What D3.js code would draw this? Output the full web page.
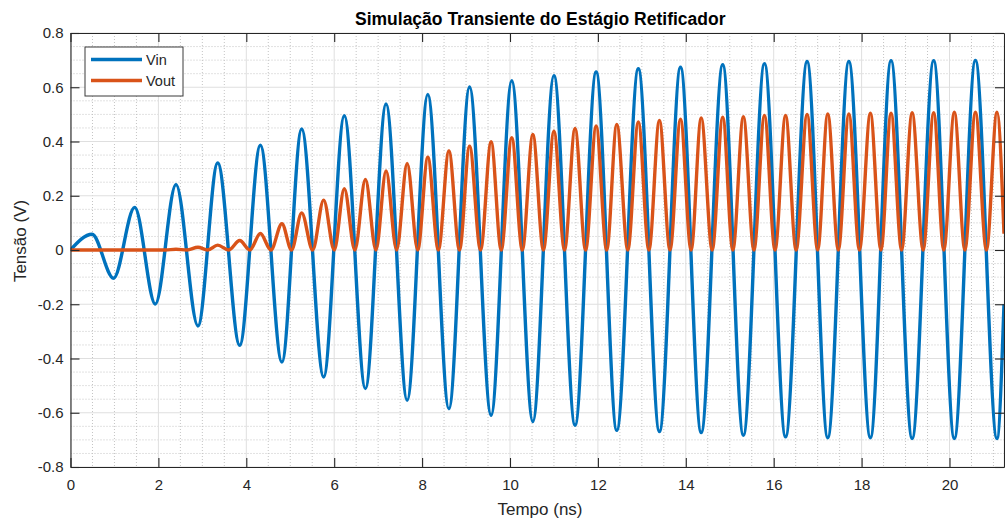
<!DOCTYPE html>
<html>
<head>
<meta charset="utf-8">
<script src="https://cdn.jsdelivr.net/npm/d3@7"></script>
<style>
  body { margin: 0; background: #fff; }
  text { font-family: "Liberation Sans", Arial, sans-serif; fill: #262626; }
</style>
</head>
<body>
<div id="chart"></div>
<script>
// extrema of Vin (max / min alternating), in ns
var tExt = [0.49, 0.98, 1.46, 1.93, 2.40, 2.90, 3.35, 3.85, 4.32, 4.81, 5.26, 5.76,
    6.23, 6.71, 7.18, 7.66, 8.13, 8.61, 9.08, 9.57, 10.04, 10.52, 11.00, 11.48,
    11.96, 12.43, 12.92, 13.40, 13.88, 14.35, 14.84, 15.31, 15.79, 16.27, 16.76, 17.23,
    17.71, 18.20, 18.67, 19.15, 19.64, 20.11, 20.59, 21.08];

var vinExt = [0.058, -0.104, 0.157, -0.199, 0.241, -0.280, 0.321, -0.351, 0.386, -0.413, 0.446, -0.468,
    0.495, -0.511, 0.538, -0.554, 0.573, -0.585, 0.601, -0.609, 0.624, -0.632, 0.643, -0.646,
    0.656, -0.665, 0.668, -0.669, 0.674, -0.673, 0.683, -0.683, 0.687, -0.689, 0.695, -0.692,
    0.695, -0.692, 0.698, -0.695, 0.698, -0.695, 0.699, -0.695];

// Vout peaks at the same instants (full wave)
var voutExt = [0, 0, 0, 0, 0.003, 0.010, 0.018, 0.035, 0.061, 0.097, 0.137, 0.184,
    0.226, 0.260, 0.291, 0.319, 0.342, 0.365, 0.383, 0.399, 0.414, 0.426, 0.438, 0.448,
    0.457, 0.463, 0.472, 0.478, 0.482, 0.487, 0.490, 0.491, 0.496, 0.496, 0.500, 0.502,
    0.502, 0.504, 0.504, 0.506, 0.506, 0.508, 0.508, 0.508];

// Vout minima (Vin zero crossings)
var tZero = [0.73, 1.22, 1.70, 2.16, 2.65, 3.12, 3.60, 4.08, 4.56, 5.03, 5.51,
    6.00, 6.47, 6.95, 7.42, 7.90, 8.37, 8.85, 9.33, 9.80, 10.28, 10.76, 11.24,
    11.72, 12.20, 12.68, 13.16, 13.64, 14.12, 14.60, 15.07, 15.55, 16.03, 16.51, 17.00,
    17.47, 17.95, 18.44, 18.91, 19.40, 19.87, 20.35, 20.84];
var voutZero = 0;

var tStart = 0, tEnd = 21.24;
var vinStart = 0, vinEnd = -0.2;
var voutStart = 0, voutEnd = 0.06;

var xTicks = [0, 2, 4, 6, 8, 10, 12, 14, 16, 18, 20];
var yTicks = [-0.8, -0.6, -0.4, -0.2, 0, 0.2, 0.4, 0.6, 0.8];
var seriesNames = ["Vin", "Vout"];
var colors = ["#0072BD", "#D95319"];

var width = 1005,
    height = 523,
    mLeft = 70.5,
    mRight = 1004,
    mTop = 33,
    mBottom = 467;

var x = d3.scaleLinear().domain([tStart, tEnd]).range([mLeft, mRight]);
var y = d3.scaleLinear().domain([-0.8, 0.8]).range([mBottom, mTop]);

// build point lists
var vin = [[tStart, vinStart]];
tExt.forEach(function(t, i) { vin.push([t, vinExt[i]]); });
vin.push([tEnd, vinEnd]);

var vout = [[tStart, voutStart]];
tExt.forEach(function(t, i) {
    vout.push([t, voutExt[i]]);
    if (i < tZero.length) vout.push([tZero[i], voutZero]);
});
vout.push([tEnd, voutEnd]);

var svg = d3.select("#chart").append("svg")
    .attr("width", width)
    .attr("height", height);

svg.append("rect").attr("width", width).attr("height", height).attr("fill", "#fff");

// minor grid
var minorX = d3.range(0, tEnd, 0.5).filter(function(d) { return d % 2 !== 0; });
var minorY = d3.range(-0.8, 0.8001, 0.05).filter(function(d) {
    return Math.abs(Math.round(d * 5) - d * 5) > 1e-6;
});
var grid = svg.append("g");
grid.selectAll(".mx").data(minorX).enter().append("line")
    .attr("x1", function(d) { return x(d); }).attr("x2", function(d) { return x(d); })
    .attr("y1", mTop).attr("y2", mBottom)
    .attr("stroke", "#c4c4c4").attr("stroke-dasharray", "1,2");
grid.selectAll(".my").data(minorY).enter().append("line")
    .attr("y1", function(d) { return y(d); }).attr("y2", function(d) { return y(d); })
    .attr("x1", mLeft).attr("x2", mRight)
    .attr("stroke", "#c4c4c4").attr("stroke-dasharray", "1,2");
// major grid
grid.selectAll(".gx").data(xTicks).enter().append("line")
    .attr("x1", function(d) { return x(d); }).attr("x2", function(d) { return x(d); })
    .attr("y1", mTop).attr("y2", mBottom)
    .attr("stroke", "#dfdfdf");
grid.selectAll(".gy").data(yTicks).enter().append("line")
    .attr("y1", function(d) { return y(d); }).attr("y2", function(d) { return y(d); })
    .attr("x1", mLeft).attr("x2", mRight)
    .attr("stroke", "#dfdfdf");

svg.append("clipPath").attr("id", "clip").append("rect")
    .attr("x", mLeft).attr("y", mTop).attr("width", mRight - mLeft).attr("height", mBottom - mTop);

var line = d3.line()
    .x(function(d) { return x(d[0]); })
    .y(function(d) { return y(d[1]); })
    .curve(d3.curveMonotoneX);

[vin, vout].forEach(function(s, i) {
    svg.append("path")
        .datum(s)
        .attr("clip-path", "url(#clip)")
        .attr("d", line)
        .attr("fill", "none")
        .attr("stroke", colors[i])
        .attr("stroke-width", 3.4)
        .attr("stroke-linejoin", "round");
});

// axes, ticks pointing inward on all four sides
var fmt = function(d) { return d === 0 ? "0" : d3.format(".1f")(d).replace("−", "-"); };
var axes = [
    { ax: d3.axisBottom(x).tickValues(xTicks).tickFormat(d3.format("d")).tickPadding(12), t: "translate(0," + mBottom + ")" },
    { ax: d3.axisTop(x).tickValues(xTicks).tickFormat(""), t: "translate(0," + mTop + ")" },
    { ax: d3.axisLeft(y).tickValues(yTicks).tickFormat(fmt).tickPadding(7), t: "translate(" + mLeft + ",0)" },
    { ax: d3.axisRight(y).tickValues(yTicks).tickFormat(""), t: "translate(" + mRight + ",0)" }
];
axes.forEach(function(a) {
    var g = svg.append("g")
        .attr("transform", a.t)
        .call(a.ax.tickSizeInner(-9).tickSizeOuter(0));
    g.select(".domain").attr("stroke", "#262626").attr("stroke-width", 1.1);
    g.selectAll(".tick line").attr("stroke", "#262626").attr("stroke-width", 1.1);
    g.selectAll("text").attr("fill", "#262626").style("font-size", "15px")
        .style("font-family", "'Liberation Sans', Arial, sans-serif");
});

// labels
svg.append("text")
    .attr("x", (mLeft + mRight) / 2 + 3).attr("y", 25)
    .attr("text-anchor", "middle")
    .style("font-size", "17.5px").style("font-weight", "bold").style("fill", "#000")
    .text("Simulação Transiente do Estágio Retificador");

svg.append("text")
    .attr("x", 540).attr("y", 515)
    .attr("text-anchor", "middle")
    .style("font-size", "17px")
    .text("Tempo (ns)");

svg.append("text")
    .attr("transform", "translate(26,241) rotate(-90)")
    .attr("text-anchor", "middle")
    .style("font-size", "17px")
    .text("Tensão (V)");

// legend
var lg = svg.append("g").attr("transform", "translate(85,47)");
lg.append("rect")
    .attr("width", 98).attr("height", 49)
    .attr("fill", "#fff").attr("stroke", "#3a3a3a").attr("stroke-width", 1);
seriesNames.forEach(function(name, i) {
    var yy = 12.5 + i * 21;
    lg.append("line")
        .attr("x1", 6).attr("x2", 57).attr("y1", yy).attr("y2", yy)
        .attr("stroke", colors[i]).attr("stroke-width", 3.4);
    lg.append("text")
        .attr("x", 61).attr("y", yy + 5)
        .style("font-size", "14.5px")
        .text(name);
});
</script>
</body>
</html>
